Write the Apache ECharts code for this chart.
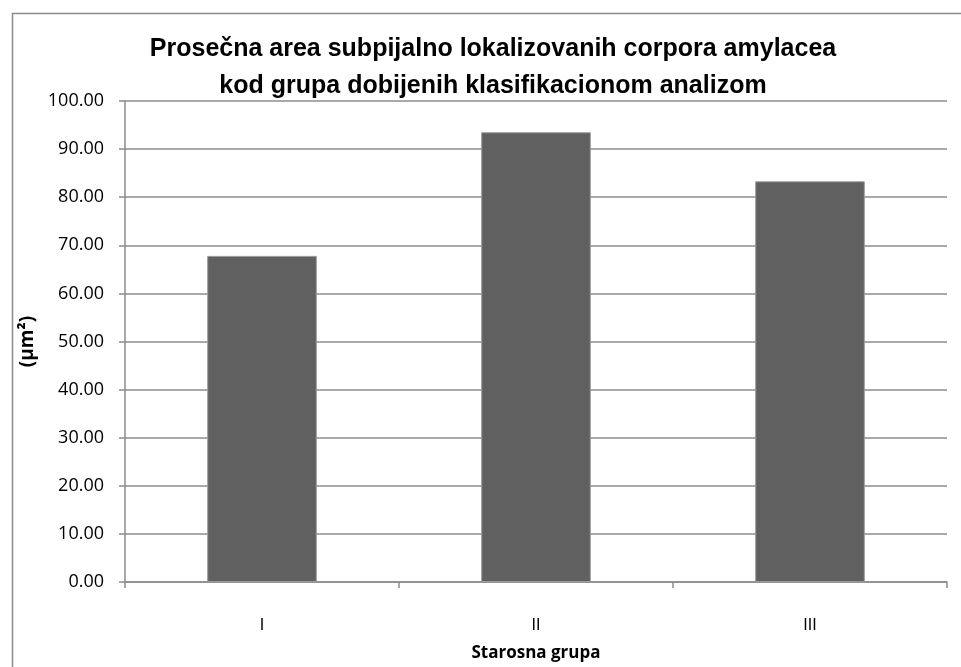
<!DOCTYPE html>
<html>
<head>
<meta charset="utf-8">
<script src="https://cdn.jsdelivr.net/npm/echarts@6/dist/echarts.min.js"></script>
<style>
html,body{margin:0;padding:0;background:#fff;overflow:hidden;}
#chart{width:961px;height:667px;}
</style>
</head>
<body>
<div id="chart"></div>
<script>
const categories = ['I', 'II', 'III'];
const values = [67.8, 93.5, 83.3];
const titleLines = ['Prosečna area subpijalno lokalizovanih corpora amylacea', 'kod grupa dobijenih klasifikacionom analizom'];
const yName = '(µm²)';
const xName = 'Starosna grupa';

const chart = echarts.init(document.getElementById('chart'));
chart.setOption({
  animation: false,
  backgroundColor: '#fff',
  graphic: [{
    type: 'rect', left: 10, top: 11, shape: { width: 1000, height: 700 },
    style: { fill: 'none', stroke: '#8c8c8c', lineWidth: 1.5 }, z: -1
  }],
  title: {
    text: titleLines.join('\n'),
    left: 488, top: 26, textAlign: 'center',
    textStyle: { fontFamily: 'Liberation Sans', fontWeight: 'bold', fontSize: 25, lineHeight: 37, color: '#000' }
  },
  grid: { left: 125, width: 822, top: 101, height: 488, containLabel: false },
  xAxis: {
    type: 'category', data: categories,
    name: xName, nameLocation: 'middle', nameGap: 63,
    nameTextStyle: { fontFamily: 'Open Sans', fontWeight: 'bold', fontSize: 17, color: '#000' },
    axisLine: { lineStyle: { color: '#8c8c8c', width: 1.5 } },
    axisTick: { show: true, length: 6, lineStyle: { color: '#8c8c8c', width: 1.5 } },
    axisLabel: { margin: 36, fontFamily: 'Liberation Sans', fontSize: 16, color: '#000' }
  },
  yAxis: {
    type: 'value', min: 0, max: 100, interval: 10,
    name: yName, nameLocation: 'middle', nameGap: 88, nameRotate: 90,
    nameTextStyle: { fontFamily: 'Open Sans', fontWeight: 'bold', fontSize: 19, color: '#000' },
    axisLine: { show: true, lineStyle: { color: '#8c8c8c', width: 1.5 } },
    axisTick: { show: true, length: 6, lineStyle: { color: '#8c8c8c', width: 1.5 } },
    splitLine: { show: true, lineStyle: { color: '#8c8c8c', width: 1.5 } },
    axisLabel: { margin: 21, fontFamily: 'Open Sans', fontSize: 18, color: '#000', formatter: v => v.toFixed(2) }
  },
  series: [{
    type: 'bar', data: values, barWidth: '40%',
    itemStyle: { color: '#606060', borderColor: '#9a9a9a', borderWidth: 1 }
  }]
});
</script>
</body>
</html>
